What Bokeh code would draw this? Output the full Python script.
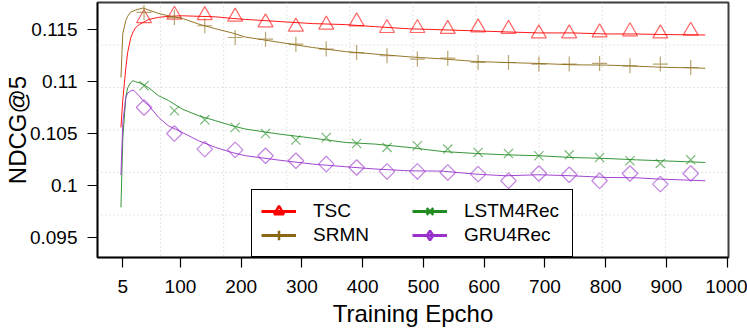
import math
from bokeh.plotting import figure
from bokeh.models import Range1d, FixedTicker, Legend, LegendItem, Span
from bokeh.embed import file_html
from bokeh.resources import INLINE

# ---------------- data ----------------
EPOCHS = [2, 5, 10, 13, 18, 22, 26, 32, 38, 48, 64, 80, 103, 130, 158, 185, 207,
          262, 317, 372, 421, 476, 531, 586, 635, 689, 745, 800, 849, 890, 964]

TSC = [0.1056, 0.1082, 0.1113, 0.1128, 0.1142, 0.1148, 0.1152, 0.1155, 0.1157, 0.1160,
       0.1162, 0.1163, 0.11635, 0.1163, 0.11625, 0.1161, 0.1160, 0.1158, 0.1156, 0.1155,
       0.1153, 0.1151, 0.1150, 0.1149, 0.1148, 0.1147, 0.1147, 0.1146, 0.1146, 0.11455, 0.1145]
SRMN = [0.1104, 0.1146, 0.1159, 0.1163, 0.1167, 0.1168, 0.1169, 0.1170, 0.1171, 0.1169,
        0.11657, 0.11635, 0.1161, 0.11555, 0.1151, 0.1147, 0.1143, 0.1138, 0.1133, 0.1129,
        0.11266, 0.1124, 0.1122, 0.11195, 0.11185, 0.11176, 0.11163, 0.1116, 0.1115, 0.1114, 0.1113]
LSTM4REC = [0.0979, 0.1045, 0.1085, 0.1094, 0.1099, 0.1101, 0.1100, 0.1099, 0.10975, 0.1094,
            0.10865, 0.1082, 0.10736, 0.10672, 0.10624, 0.10576, 0.10544, 0.10496, 0.10457, 0.10415,
            0.10399, 0.10367, 0.10328, 0.10309, 0.10296, 0.10287, 0.1027, 0.10261, 0.10248, 0.10239, 0.10222]
GRU4REC = [0.1010, 0.1060, 0.1085, 0.1089, 0.1091, 0.1092, 0.1090, 0.10864, 0.1082, 0.10768,
           0.10656, 0.10576, 0.10511, 0.10431, 0.10367, 0.10318, 0.10287, 0.10245, 0.10207, 0.10181,
           0.10159, 0.10142, 0.10139, 0.1011, 0.10094, 0.10104, 0.10094, 0.10078, 0.10075, 0.10062, 0.10046]

MARK_EPOCHS = [40, 90, 140, 190, 240, 290, 340, 390, 440, 490, 540, 590, 640, 690, 740, 790, 840, 890, 940]
TSC_M = [0.1161, 0.11644, 0.1164, 0.11625, 0.1157, 0.11529, 0.11548, 0.1158, 0.11516, 0.11516,
         0.11507, 0.11522, 0.11507, 0.11464, 0.11464, 0.11474, 0.11484, 0.11464, 0.1149]
SRMN_M = [0.11667, 0.11618, 0.11539, 0.11426, 0.1141, 0.11362, 0.11314, 0.11281, 0.1125, 0.11218,
          0.11227, 0.11185, 0.11185, 0.1117, 0.1117, 0.11176, 0.11153, 0.1117, 0.11137]
LSTM4REC_M = [0.10961, 0.1072, 0.10633, 0.10559, 0.10501, 0.10438, 0.10463, 0.10405, 0.10367, 0.10383,
              0.10351, 0.10319, 0.10309, 0.10287, 0.10296, 0.1027, 0.10239, 0.10213, 0.10248]
GRU4REC_M = [0.10752, 0.10501, 0.10351, 0.10344, 0.10287, 0.10239, 0.10207, 0.10174, 0.10136, 0.10136,
             0.10126, 0.1011, 0.10046, 0.10116, 0.10104, 0.10046, 0.10116, 0.10014, 0.10116]

NAMES = ["TSC", "SRMN", "LSTM4Rec", "GRU4Rec"]
X_TICKS = [5, 100, 200, 300, 400, 500, 600, 700, 800, 900, 1000]
Y_TICKS = [0.095, 0.1, 0.105, 0.11, 0.115]
Y_TICK_LABELS = ["0.095", "0.1", "0.105", "0.11", "0.115"]

# ---------------- styling ----------------
FONT = "Liberation Sans"
COLORS = ["#FF0000", "#8B6914", "#228B22", "#9932CC"]
X_START, X_END = -36.6, 1002.2
Y_START, Y_END = 0.09307, 0.11763

p = figure(width=747, height=331, output_backend="svg", toolbar_location=None,
           x_range=Range1d(X_START, X_END), y_range=Range1d(Y_START, Y_END),
           min_border_left=97, min_border_right=19, min_border_top=2, min_border_bottom=74)

p.xgrid.visible = False
p.ygrid.visible = False
p.outline_line_color = "#3c3c3c"
p.outline_line_width = 2
p.background_fill_color = "white"
p.border_fill_color = "white"

# dotted grid: R grid(nx=10, ny=6) style, equally spaced cells
for i in range(1, 10):
    p.add_layout(Span(location=X_START + i * (X_END - X_START) / 10, dimension="height",
                      line_color="#c8c8c8", line_dash="1 3", line_width=1, level="underlay"))
for j in range(1, 6):
    p.add_layout(Span(location=Y_START + j * (Y_END - Y_START) / 6, dimension="width",
                      line_color="#c8c8c8", line_dash="1 3", line_width=1, level="underlay"))

series = [TSC, SRMN, LSTM4REC, GRU4REC]
marks = [TSC_M, SRMN_M, LSTM4REC_M, GRU4REC_M]
markers = ["triangle", "cross", "x", "square"]
legend_markers = ["triangle", "cross", "x", "diamond"]
sizes = [15, 15, 13, 11]
angles = [0, 0, 0, math.pi / 4]

items = []
for name, ys, ms, col, mk, lmk, sz, ang in zip(NAMES, series, marks, COLORS, markers,
                                               legend_markers, sizes, angles):
    p.line(EPOCHS, ys, line_color=col, line_width=1, line_alpha=0.9)
    p.scatter(MARK_EPOCHS, ms, marker=mk, size=sz, angle=ang, fill_color=None,
              line_color=col, line_alpha=0.6, line_width=1.2)
    # legend-only renderers (thicker strokes as in the reference legend)
    lr = p.line([float("nan")], [float("nan")], line_color=col, line_width=3)
    sr = p.scatter([float("nan")], [float("nan")], marker=lmk, size=10,
                   fill_color=None, line_color=col, line_width=2.5)
    items.append(LegendItem(label=name, renderers=[lr, sr]))

legend = Legend(items=items, location=(154, 0), ncols=2,
                glyph_width=35, glyph_height=24, label_height=24, label_width=99,
                label_standoff=17, spacing=0, padding=9, margin=0,
                border_line_color="black", border_line_width=1, border_line_alpha=1,
                background_fill_color="white", background_fill_alpha=1,
                label_text_font=FONT, label_text_font_size="19px", label_text_color="black")
p.add_layout(legend)

# axes
for ax in (p.xaxis[0], p.yaxis[0]):
    ax.major_label_text_font = FONT
    ax.major_label_text_font_size = "19px"
    ax.major_label_text_color = "black"
    ax.axis_label_text_font = FONT
    ax.axis_label_text_font_size = "24px"
    ax.axis_label_text_font_style = "normal"
    ax.axis_label_text_color = "black"
    ax.major_tick_out = 10
    ax.major_tick_in = 0
    ax.minor_tick_line_color = None
    ax.major_tick_line_color = "black"
    ax.major_tick_line_width = 1.2
    ax.axis_line_color = "black"
    ax.axis_line_width = 1.5

p.xaxis.ticker = FixedTicker(ticks=X_TICKS)
p.xaxis.axis_label = "Training Epcho"
p.xaxis.axis_label_standoff = 4
p.xaxis.major_label_standoff = 12

p.yaxis.ticker = FixedTicker(ticks=Y_TICKS)
p.yaxis.major_label_overrides = {t: l for t, l in zip(Y_TICKS, Y_TICK_LABELS)}
p.yaxis.axis_label = "NDCG@5"
p.yaxis.axis_label_standoff = -4
p.yaxis.major_label_standoff = 10

open("out.html", "w").write(file_html(p, INLINE))
